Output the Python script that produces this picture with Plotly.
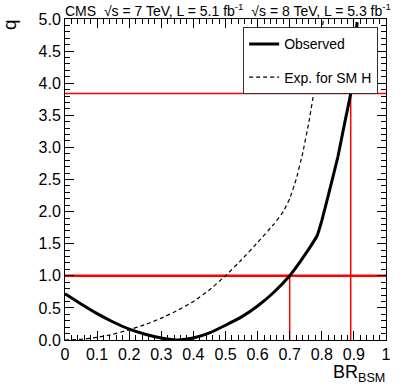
import plotly.graph_objects as go

# observed q vs BR_BSM
br_obs = [0.0, 0.05, 0.1, 0.15, 0.2, 0.25, 0.3, 0.325, 0.35, 0.375, 0.4, 0.45, 0.5, 0.55, 0.6,
          0.65, 0.7, 0.73, 0.76, 0.785, 0.8, 0.82, 0.85, 0.87, 0.89, 0.9, 0.91]
q_obs = [0.72, 0.56, 0.41, 0.28, 0.17, 0.09, 0.03, 0.01, 0.0, 0.01, 0.03, 0.11, 0.23, 0.36, 0.53,
         0.74, 1.0, 1.2, 1.42, 1.62, 1.86, 2.25, 2.85, 3.35, 3.84, 4.35, 4.95]

# expected for SM Higgs
br_exp = [0.0, 0.05, 0.1, 0.15, 0.2, 0.25, 0.3, 0.35, 0.4, 0.45, 0.5, 0.55, 0.6, 0.65, 0.68,
          0.7, 0.72, 0.74, 0.76, 0.775, 0.79, 0.805]
q_exp = [0.0, 0.01, 0.04, 0.09, 0.16, 0.24, 0.34, 0.46, 0.6, 0.78, 1.0, 1.25, 1.52, 1.8, 2.0,
         2.2, 2.5, 2.9, 3.4, 3.85, 4.35, 5.0]

# 68% / 95% CL thresholds and where the observed curve crosses them
q_thresholds = [1.0, 3.84]
br_crossings = [0.70, 0.89]
line_widths = [2.5, 1.5]

fig = go.Figure()

for qt, bc, lw in zip(q_thresholds, br_crossings, line_widths):
    fig.add_trace(go.Scatter(x=[0, 1], y=[qt, qt], mode='lines',
                             line=dict(color='red', width=lw), showlegend=False))
    fig.add_trace(go.Scatter(x=[bc, bc], y=[0, qt], mode='lines',
                             line=dict(color='red', width=1.5), showlegend=False))

fig.add_trace(go.Scatter(x=br_obs, y=q_obs, mode='lines', name='Observed', legendgroup='obs',
                         line=dict(color='black', width=3, shape='spline', smoothing=0.3)))
fig.add_trace(go.Scatter(x=br_exp, y=q_exp, mode='lines', name='Exp. for SM H', legendgroup='exp',
                         line=dict(color='black', width=1.2, dash='4px,3px', shape='spline', smoothing=0.3)))

font = 'Liberation Sans, Arial, sans-serif'

axis_common = dict(
    showgrid=False, zeroline=False, showline=True, linecolor='black', linewidth=1,
    mirror='ticks', ticks='inside', ticklen=9, tickcolor='black', automargin=False,
    tickfont=dict(size=16, color='black', family=font),
)

fig.update_layout(
    width=407, height=391,
    margin=dict(l=65, r=21, t=19, b=51, autoexpand=False),
    paper_bgcolor='white', plot_bgcolor='white',
    font=dict(family=font, color='black'),
    xaxis=dict(range=[0, 1], tickvals=[i / 10 for i in range(11)],
               ticktext=['0', '0.1', '0.2', '0.3', '0.4', '0.5', '0.6', '0.7', '0.8', '0.9', '1'],
               minor=dict(dtick=0.02, ticklen=5, tickcolor='black', ticks='inside'),
               **axis_common),
    yaxis=dict(range=[0, 5], tickvals=[i * 0.5 for i in range(11)], tickformat='.1f',
               minor=dict(dtick=0.1, ticklen=5, tickcolor='black', ticks='inside'),
               **axis_common),
    legend=dict(x=0.555, y=0.974, xanchor='left', yanchor='top',
                bgcolor='white', bordercolor='#333', borderwidth=1,
                font=dict(size=14, color='black', family=font),
                itemwidth=30, entrywidth=110, traceorder='grouped', tracegroupgap=12),
    annotations=[
        dict(text='CMS\u00a0 \u221as = 7 TeV, L = 5.1 fb<sup>-1</sup>\u00a0 \u221as = 8 TeV, L = 5.3 fb<sup>-1</sup>',
             xref='paper', yref='paper', x=0, y=1, xanchor='left', yanchor='bottom',
             showarrow=False, font=dict(size=14, color='black'), yshift=-2, xshift=-2),
        dict(text='q', xref='paper', yref='paper', x=0, y=1, xanchor='right', yanchor='top',
             textangle=-90, showarrow=False, font=dict(size=19, color='black'), xshift=-43, yshift=2),
        dict(text='BR<sub>BSM</sub>', xref='paper', yref='paper', x=1, y=0, xanchor='right', yanchor='top',
             showarrow=False, font=dict(size=18, color='black'), yshift=-20, xshift=1),
    ],
)

fig.write_html('out.html', config={'displayModeBar': False},
               post_script="document.body.style.margin = '0';")
